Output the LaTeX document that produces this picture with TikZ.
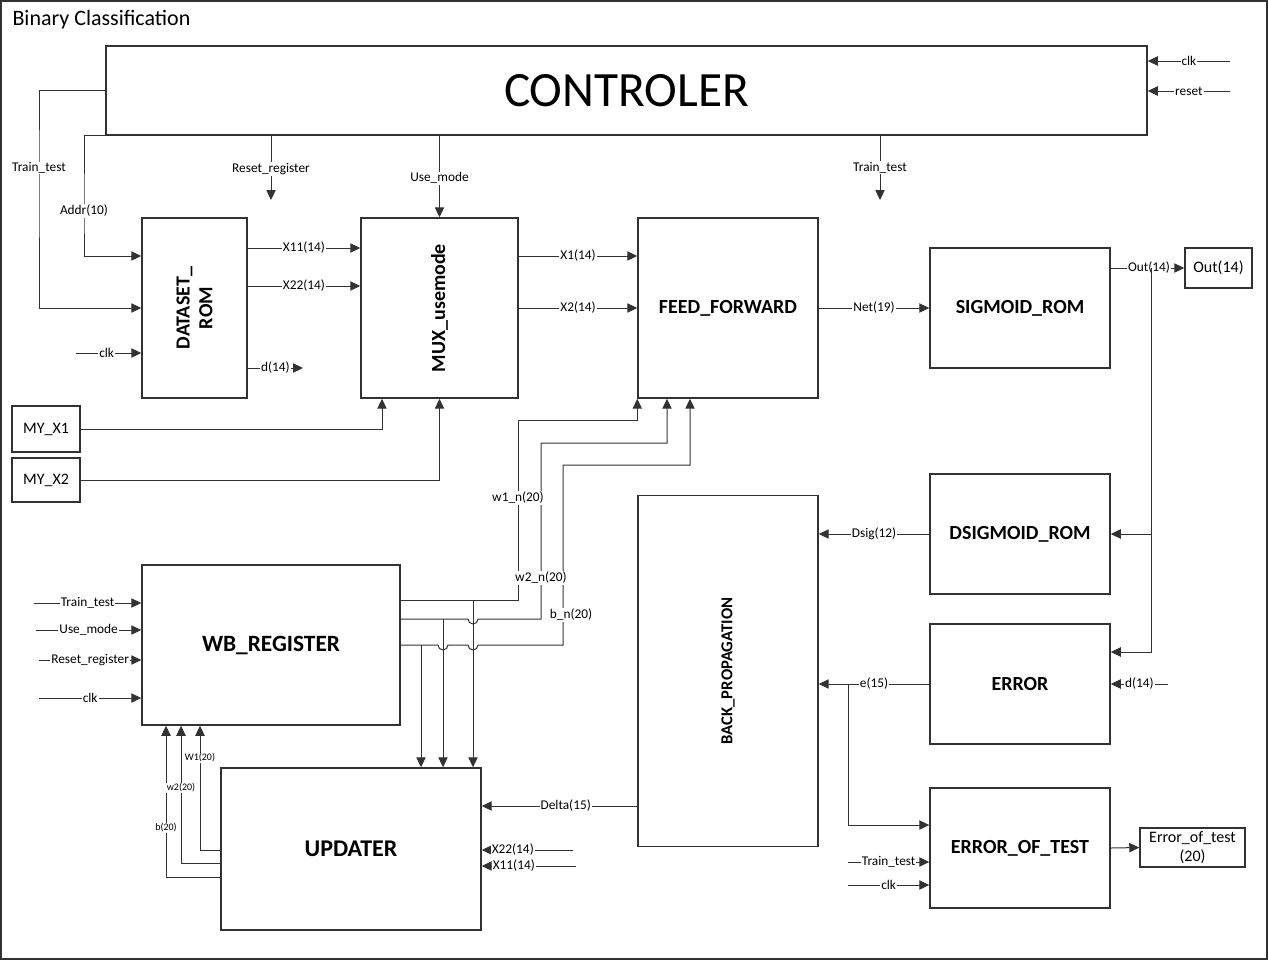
\documentclass[tikz,border=0pt]{standalone}
\usepackage{fontspec}
\setmainfont{Carlito}
\usetikzlibrary{arrows.meta}
\definecolor{lncol}{RGB}{50,50,50}
\tikzset{every picture/.style={line width=0.75pt}}

\begin{document}
\begin{tikzpicture}[x=0.75pt,y=0.75pt,yscale=-1,
  blk/.style 2 args={draw=lncol, line width=1.1pt, minimum width=#1*0.75pt, minimum height=#2*0.75pt, inner sep=0pt, font=\fontsize{15}{18}\selectfont\bfseries},
  arr/.style={draw=lncol, -{Triangle[length=7.5pt,width=7pt]}},
  lbl/.style={fill=white, inner sep=0.75pt, font=\fontsize{10}{12}\selectfont},
  tiny/.style={fill=white, inner sep=0.5pt, font=\fontsize{7.5}{9}\selectfont},
  vtxt/.style={rotate=90, align=center, font=\fontsize{15}{17}\selectfont\bfseries}]
%set diagram left start at 0, and has height of 961
\useasboundingbox (0,0) rectangle (1269,961);
\draw[draw=lncol, line width=1.1pt] (1,1) rectangle (1267,959);

% Text Node
\node[anchor=west, inner sep=0pt, font=\fontsize{16.5}{19}\selectfont] (title) at (12,20) {Binary Classification};

%Shape: Rectangle
\node[blk={1041}{89}, font=\fontsize{37}{44}\selectfont] (ctrl) at (626.5,90.5) {CONTROLER};
\node[blk={105}{180}] (dsrom) at (194.5,308) {};
\node[blk={157}{180}] (mux) at (439.5,308) {};
\node[blk={180}{180}] (ff) at (728,308) {FEED\_FORWARD};
\node[blk={180}{120}] (sigrom) at (1020,308) {SIGMOID\_ROM};
\node[blk={67}{40}, font=\fontsize{12}{14}\selectfont] (out) at (1218.5,268) {Out(14)};
\node[blk={180}{120}] (dsig) at (1020,534) {DSIGMOID\_ROM};
\node[blk={180}{120}] (err) at (1020,684) {ERROR};
\node[blk={180}{120}] (eot) at (1020,848) {ERROR\_OF\_TEST};
\node[blk={105}{39}, align=center, font=\fontsize{12}{14}\selectfont] (eotout) at (1192.5,847.5) {Error\_of\_test\\(20)};
\node[blk={180}{351}] (bp) at (728,671) {};
\node[blk={258}{160}, font=\fontsize{17.5}{20}\selectfont\bfseries] (wb) at (271,645) {WB\_REGISTER};
\node[blk={260}{162}, font=\fontsize{18}{21}\selectfont\bfseries] (upd) at (351,849) {UPDATER};
\node[blk={68}{46}, font=\fontsize{12}{14}\selectfont] (myx1) at (46,429) {MY\_X1};
\node[blk={68}{44}, font=\fontsize{12}{14}\selectfont] (myx2) at (46,480) {MY\_X2};

% Text Node
\node[vtxt] (dsromtxt) at (dsrom) {DATASET\_\\ROM};
\node[vtxt] (muxtxt) at (mux) {MUX\_usemode};
\node[vtxt, font=\fontsize{12.5}{15}\selectfont\bfseries] (bptxt) at (bp) {BACK\_PROPAGATION};

%Straight Lines
\coordinate (cclk) at (1230,61);
\coordinate (crst) at (1230,91);
\draw[arr] (cclk) -- (cclk -| ctrl.east) node[lbl, pos=0.5] (lcclk) {clk};
\draw[arr] (crst) -- (crst -| ctrl.east) node[lbl, pos=0.5] (lcrst) {reset};

\coordinate (ttl) at (39,168);
\draw[arr] (ctrl.west) -| (ttl) |- (dsrom.west);
\node[lbl] (lttl) at (ttl) {Train\_test};
\coordinate (addr) at (84,211);
\draw[arr] (ctrl.south west) -| (addr) |- (dsrom.west |- 0,256);
\node[lbl] (laddr) at (addr) {Addr(10)};

\coordinate (rst) at (271,200);
\draw[arr] (ctrl.south -| rst) -- (rst) node[lbl, pos=0.52] (lrst) {Reset\_register};
\draw[arr] (ctrl.south -| mux.north) -- (mux.north) node[lbl, pos=0.52] (lum) {Use\_mode};
\coordinate (ttr) at (880,200);
\draw[arr] (ctrl.south -| ttr) -- (ttr) node[lbl, pos=0.5] (lttr) {Train\_test};

\coordinate (dsclk) at (76,353);
\draw[arr] (dsclk) -- (dsclk -| dsrom.west) node[lbl, pos=0.47] (ldsclk) {clk};
\draw[arr] (dsrom.east |- 0,248) -- (mux.west |- 0,248) node[lbl, pos=0.5] (lx11) {X11(14)};
\draw[arr] (dsrom.east |- 0,286) -- (mux.west |- 0,286) node[lbl, pos=0.5] (lx22) {X22(14)};
\coordinate (dsd) at (303,368);
\draw[arr] (dsrom.east |- dsd) -- (dsd) node[lbl, pos=0.5] (ldsd) {d(14)};

\draw[arr] (myx1.east) -| (mux.south -| 382,0);
\draw[arr] (myx2.east) -| (mux.south);

\draw[arr] (mux.east |- 0,256) -- (ff.west |- 0,256) node[lbl, pos=0.5] (lx1) {X1(14)};
\draw[arr] (mux.east) -- (ff.west) node[lbl, pos=0.5] (lx2) {X2(14)};
\draw[arr] (ff.east) -- (sigrom.west) node[lbl, pos=0.5] (lnet) {Net(19)};
\draw[arr] (sigrom.east |- out.west) -- (out.west) node[lbl, pos=0.52] (lout) {Out(14)};

\coordinate (tap) at (1151,268);
\draw[arr] (tap) |- (err.east |- 0,652);
\draw[arr] (tap |- dsig.east) -- (dsig.east);

\draw[arr] (dsig.west) -- (bp.east |- dsig.west) node[lbl, pos=0.5] (ldsig) {Dsig(12)};
\draw[arr] (err.west) -- (bp.east |- err.west) node[lbl, pos=0.5] (le) {e(15)};
\coordinate (errd) at (1168,684);
\draw[arr] (errd) -- (err.east) node[lbl, pos=0.5] (lerrd) {d(14)};
\coordinate (ebr) at (848,684);
\draw[arr] (ebr) |- (eot.west |- 0,825);

\coordinate (eottt) at (848,862);
\coordinate (eotclk) at (848,885);
\draw[arr] (eottt) -- (eottt -| eot.west) node[lbl, pos=0.5] (leottt) {Train\_test};
\draw[arr] (eotclk) -- (eotclk -| eot.west) node[lbl, pos=0.5] (leotclk) {clk};
\draw[arr] (eot.east) -- (eotout.west);

\draw[arr] (bp.west |- 0,806) -- (upd.east |- 0,806) node[lbl, pos=0.46] (ldelta) {Delta(15)};
\coordinate (ux22) at (573,850);
\coordinate (ux11) at (576,866);
\draw[arr] (ux22) -- (ux22 -| upd.east) node[lbl, pos=0.66] (lux22) {X22(14)};
\draw[arr] (ux11) -- (ux11 -| upd.east) node[lbl, pos=0.66] (lux11) {X11(14)};

% WB_REGISTER inputs
\coordinate (wbtt) at (34,603);
\coordinate (wbum) at (36,630);
\coordinate (wbrr) at (39,660);
\coordinate (wbclk) at (39,698);
\draw[arr] (wbtt) -- (wbtt -| wb.west) node[lbl, pos=0.5] (lwbtt) {Train\_test};
\draw[arr] (wbum) -- (wbum -| wb.west) node[lbl, pos=0.5] (lwbum) {Use\_mode};
\draw[arr] (wbrr) -- (wbrr -| wb.west) node[lbl, pos=0.5] (lwbrr) {Reset\_register};
\draw[arr] (wbclk) -- (wbclk -| wb.west) node[lbl, pos=0.5] (lwbclk) {clk};

% WB_REGISTER outputs to FEED_FORWARD
\draw[arr] (wb.east |- 0,600) -| (518,420) -| (ff.south west);
\draw[arr] (wb.east |- 0,619) -- (468,619) arc[start angle=180, end angle=0, radius=3.75pt] -| (541,443) -| (ff.south -| 667,0);
\draw[arr] (wb.east |- 0,645) -- (438,645) arc[start angle=180, end angle=0, radius=3.75pt] -- (468,645) arc[start angle=180, end angle=0, radius=3.75pt] -| (563,465) -| (ff.south -| 690,0);
\node[lbl] (lw1n) at (518,498) {w1\_n(20)};
\node[lbl] (lw2n) at (541,578) {w2\_n(20)};
\node[lbl] (lbn) at (571,615) {b\_n(20)};

% WB_REGISTER outputs to UPDATER
\coordinate (dw1) at (473,600);
\coordinate (dw2) at (443,619);
\coordinate (db) at (421,645);
\draw[arr] (dw1) -- (upd.north -| dw1);
\draw[arr] (dw2) -- (upd.north -| dw2);
\draw[arr] (db) -- (upd.north -| db);

% UPDATER back to WB_REGISTER
\draw[arr] (upd.west |- 0,850) -| (wb.south -| 200,0);
\draw[arr] (upd.west |- 0,863) -| (wb.south -| 181,0);
\draw[arr] (upd.west |- 0,877) -| (wb.south -| 166,0);
\node[tiny] (lw1) at (200,758) {W1(20)};
\node[tiny] (lw2) at (181,788) {w2(20)};
\node[tiny] (lb) at (166,828) {b(20)};

\end{tikzpicture}
\end{document}
